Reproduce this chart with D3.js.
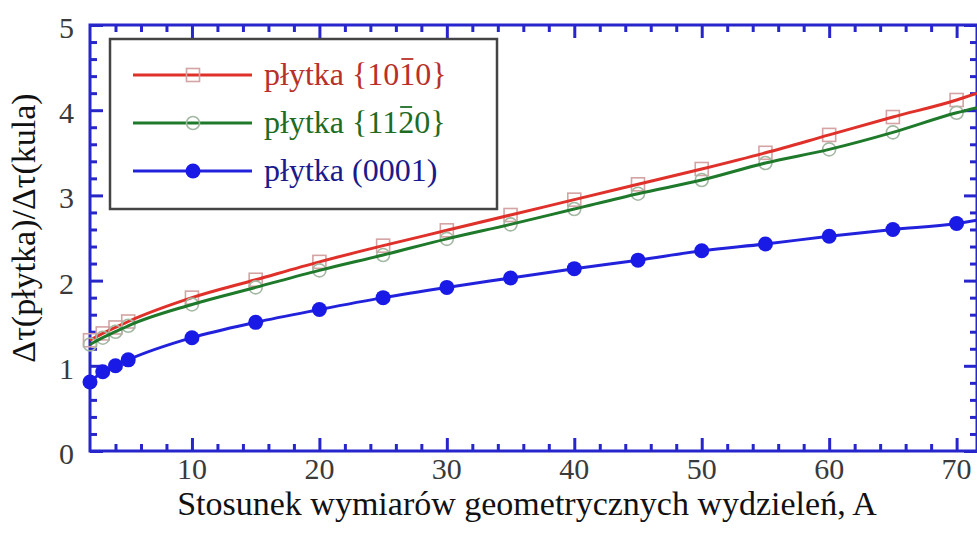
<!DOCTYPE html>
<html>
<head>
<meta charset="utf-8">
<script src="https://cdn.jsdelivr.net/npm/d3@7"></script>
<style>
body { margin: 0; background: #fff; }
</style>
</head>
<body>
<svg id="chart" width="977" height="535"></svg>
<script>
// data
var xs = [2, 3, 4, 5, 10, 15, 20, 25, 30, 35, 40, 45, 50, 55, 60, 65, 70];
var red = [1.30, 1.38, 1.45, 1.52, 1.80, 2.01, 2.22, 2.41, 2.59, 2.77, 2.95, 3.13, 3.31, 3.50, 3.71, 3.92, 4.12];
var green = [1.25, 1.33, 1.40, 1.47, 1.72, 1.92, 2.12, 2.30, 2.49, 2.66, 2.84, 3.02, 3.18, 3.38, 3.54, 3.74, 3.97];
var blue = [0.81, 0.93, 1.00, 1.07, 1.33, 1.51, 1.66, 1.80, 1.92, 2.03, 2.14, 2.24, 2.35, 2.43, 2.52, 2.60, 2.67];
// where the curves leave the plot on the right
var edgeX = 71.6;
var edgeVals = { red: 4.20, green: 4.03, blue: 2.71 };

var xMajor = [10, 20, 30, 40, 50, 60, 70];
var yMajor = [0, 1, 2, 3, 4, 5];
// legend labels split as [before, barred digit, after]
var legendLabels = [["płytka {10", "1", "0}"], ["płytka {11", "2", "0}"], ["płytka (0001)", "", ""]];

var axisCol = "#2626cc";
var FONT = "'Liberation Serif', 'Times New Roman', serif";

var svg = d3.select("#chart");
var x = d3.scaleLinear().domain([2, edgeX]).range([90, 977]);
var y = d3.scaleLinear().domain([0, 5]).range([451, 25]);

var xMinor = d3.range(4, 72, 2).filter(function(v){ return v % 10 != 0; });
var yMinor = d3.range(0.2, 5, 0.2).filter(function(v){ return Math.abs(v - Math.round(v)) > 0.01; });

// axes, ticks pointing inward on all four sides
function styleAxis(g) {
  g.select(".domain").remove();
  g.selectAll("line").attr("stroke", axisCol).attr("stroke-width", 3);
  g.selectAll("text").remove();
}
svg.append("g").attr("transform", "translate(0,451)")
  .call(d3.axisBottom(x).tickValues(xMajor).tickSize(-13)).call(styleAxis);
svg.append("g").attr("transform", "translate(0,451)")
  .call(d3.axisBottom(x).tickValues(xMinor).tickSize(-7)).call(styleAxis);
svg.append("g").attr("transform", "translate(0,25)")
  .call(d3.axisTop(x).tickValues(xMajor).tickSize(-13)).call(styleAxis);
svg.append("g").attr("transform", "translate(0,25)")
  .call(d3.axisTop(x).tickValues(xMinor).tickSize(-7)).call(styleAxis);
svg.append("g").attr("transform", "translate(90,0)")
  .call(d3.axisLeft(y).tickValues(yMajor).tickSize(-13)).call(styleAxis);
svg.append("g").attr("transform", "translate(90,0)")
  .call(d3.axisLeft(y).tickValues(yMinor).tickSize(-7)).call(styleAxis);
svg.append("g").attr("transform", "translate(977,0)")
  .call(d3.axisRight(y).tickValues(yMajor).tickSize(-13)).call(styleAxis);
svg.append("g").attr("transform", "translate(977,0)")
  .call(d3.axisRight(y).tickValues(yMinor).tickSize(-7)).call(styleAxis);

svg.append("rect").attr("x", x(2)).attr("y", y(5))
  .attr("width", x(edgeX) - x(2)).attr("height", y(0) - y(5))
  .attr("fill", "none").attr("stroke", axisCol).attr("stroke-width", 3);

// tick labels
svg.selectAll(".xl").data(xMajor).enter().append("text")
  .attr("x", function(d){ return x(d); }).attr("y", 479)
  .attr("text-anchor", "middle").attr("font-family", FONT).attr("font-size", 30).attr("fill", "#3a3a3a")
  .text(function(d){ return d; });
svg.selectAll(".yl").data(yMajor).enter().append("text")
  .attr("x", 74).attr("y", function(d){ return y(d) + 13; })
  .attr("text-anchor", "end").attr("font-family", FONT).attr("font-size", 30).attr("fill", "#3a3a3a")
  .text(function(d){ return d; });

svg.append("text").attr("x", 527).attr("y", 515).attr("text-anchor", "middle")
  .attr("font-family", FONT).attr("font-size", 34).attr("fill", "#111")
  .text("Stosunek wymiarów geometrycznych wydzieleń, A");
svg.append("text").attr("transform", "translate(35,228) rotate(-90)")
  .attr("text-anchor", "middle").attr("font-family", FONT).attr("font-size", 34).attr("fill", "#111")
  .text("Δτ(płytka)/Δτ(kula)");

// series
var series = [
  { vals: red, end: edgeVals.red, line: "#e0302a", mark: "square", mcol: "#d4a3a3" },
  { vals: green, end: edgeVals.green, line: "#1e7a2a", mark: "circle", mcol: "#a3b8a3" },
  { vals: blue, end: edgeVals.blue, line: "#2222dd", mark: "dot", mcol: "#1a1ae6" }
];

var lineGen = d3.line().x(function(d){ return x(d[0]); }).y(function(d){ return y(d[1]); })
  .curve(d3.curveMonotoneX);

var plot = svg.append("g");
series.forEach(function(s) {
  var pts = xs.map(function(v, i){ return [v, s.vals[i]]; });
  if (s.mark != "dot") drawMarks(plot, pts, s);
  plot.append("path").datum(pts.concat([[edgeX, s.end]]))
    .attr("d", lineGen).attr("fill", "none")
    .attr("stroke", s.line).attr("stroke-width", 3);
  if (s.mark == "dot") drawMarks(plot, pts, s);
});

function drawMarks(g, pts, s) {
  if (s.mark == "square") {
    g.selectAll(null).data(pts).enter().append("rect")
      .attr("x", function(d){ return x(d[0]) - 6.5; }).attr("y", function(d){ return y(d[1]) - 6.5; })
      .attr("width", 13).attr("height", 13)
      .attr("fill", "none").attr("stroke", s.mcol).attr("stroke-width", 1.6);
  } else if (s.mark == "circle") {
    g.selectAll(null).data(pts).enter().append("circle")
      .attr("cx", function(d){ return x(d[0]); }).attr("cy", function(d){ return y(d[1]); })
      .attr("r", 6.5).attr("fill", "none").attr("stroke", s.mcol).attr("stroke-width", 1.6);
  } else {
    g.selectAll(null).data(pts).enter().append("circle")
      .attr("cx", function(d){ return x(d[0]); }).attr("cy", function(d){ return y(d[1]); })
      .attr("r", 7.5).attr("fill", s.mcol);
  }
}

// legend
var leg = svg.append("g");
leg.append("rect").attr("x", 110).attr("y", 39).attr("width", 387).attr("height", 170)
  .attr("fill", "#fff").attr("stroke", "#444").attr("stroke-width", 2.5);
var textCols = ["#b8302a", "#1e6b24", "#1a1a8c"];
var legY = [75, 123, 171];
series.forEach(function(s, i) {
  var ly = legY[i];
  leg.append("line").attr("x1", 133).attr("x2", 252).attr("y1", ly).attr("y2", ly)
    .attr("stroke", s.line).attr("stroke-width", 3);
  drawMarks(leg, [[x.invert(193), y.invert(ly)]], s);
  var parts = legendLabels[i];
  var cx = 264;
  parts.forEach(function(p, k) {
    if (!p) return;
    var t = leg.append("text").attr("x", cx).attr("y", ly + 10)
      .attr("font-family", FONT).attr("font-size", 32)
      .attr("fill", textCols[i]).text(p);
    var w = t.node().getComputedTextLength();
    if (k == 1) {
      // bar over the digit (Miller-Bravais index)
      leg.append("line").attr("x1", cx + 2).attr("x2", cx + w - 2)
        .attr("y1", ly - 16).attr("y2", ly - 16)
        .attr("stroke", textCols[i]).attr("stroke-width", 1.8);
    }
    cx += w;
  });
});
</script>
</body>
</html>
